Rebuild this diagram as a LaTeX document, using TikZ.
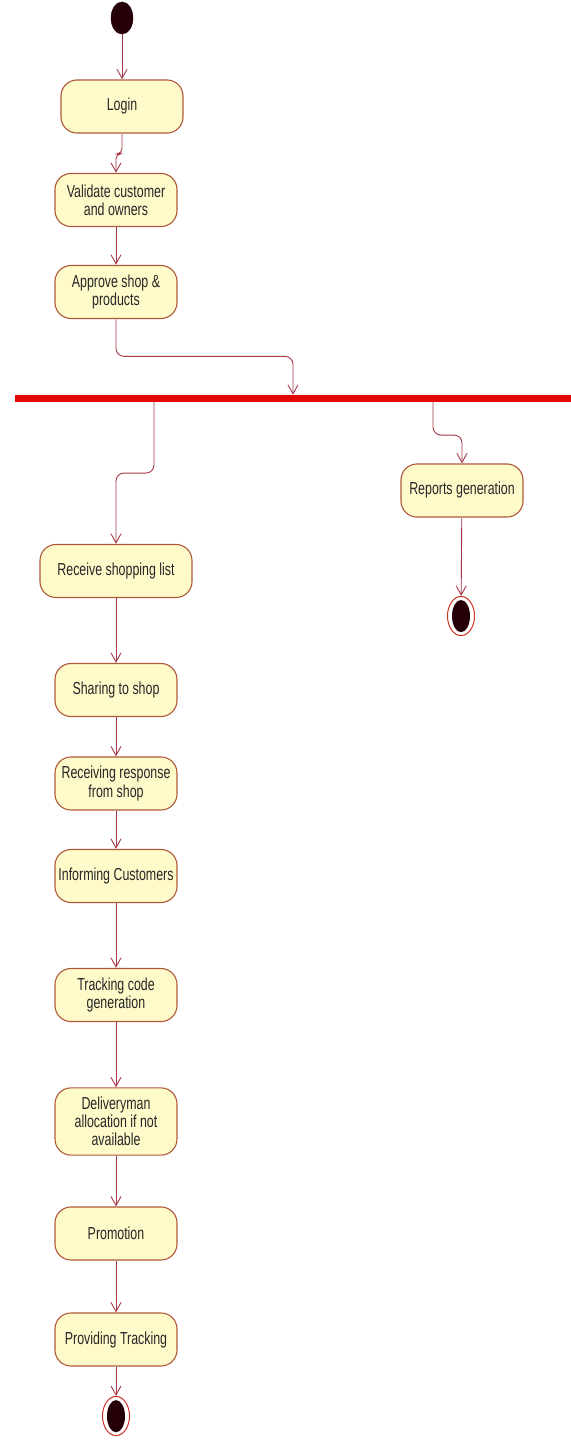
\documentclass[tikz,border=0pt]{standalone}
\usepackage{fontspec}
\setmainfont{Liberation Sans}
\usetikzlibrary{arrows.meta,shapes.geometric}
\definecolor{actfill}{RGB}{254,250,202}
\definecolor{actline}{RGB}{176,88,58}
\definecolor{flowline}{RGB}{165,55,70}
\definecolor{barred}{RGB}{226,6,6}
\definecolor{dotfill}{RGB}{38,0,8}
\begin{document}
\begin{tikzpicture}[x=1pt, y=-0.7143pt, yscale=1.4, transform shape,
	activity/.style={draw=actline, line width=1.1pt, fill=actfill, rounded corners=16pt,
		minimum width=122pt, minimum height=37.9pt, align=center, inner sep=2pt,
		font=\fontsize{12.4}{13}\selectfont, text=black!85},
	flow/.style={draw=flowline, line width=0.9pt, -{Straight Barb[length=9pt,width=10pt]}},
	startdot/.style={ellipse, fill=dotfill, draw=dotfill, minimum width=22pt, minimum height=23pt, inner sep=0pt},
	enddot/.style={ellipse, fill=white, draw=actline!60!red, line width=1pt, minimum width=27pt, minimum height=28pt, inner sep=0pt},
	endcore/.style={ellipse, fill=dotfill, minimum width=18pt, minimum height=23pt, inner sep=0pt},
	forkbar/.style={fill=barred, minimum width=556pt, minimum height=5pt, inner sep=0pt}]
	\useasboundingbox (0,0) rectangle (571,1444);
	% Draw start and fork
	\node[startdot] (start) at (122,18) {};
	\node[forkbar] (fork) at (293,398.5) {};
	\coordinate (forkL) at (154,402);
	\coordinate (forkR) at (433,402);
	% Draw activities
	\node[activity] (login) at (122,106.5) {Login};
	\node[activity] (validate) at (116,200) {Validate customer\\and owners};
	\node[activity] (approve) at (116,292) {Approve shop \&\\products};
	\node[activity] (reports) at (462,490.5) {Reports generation};
	\node[activity, minimum width=152pt] (receive) at (116,571) {Receive shopping list};
	\node[activity] (share) at (116,690) {Sharing to shop};
	\node[activity] (response) at (116,783.5) {Receiving response\\from shop};
	\node[activity] (inform) at (116,876) {Informing Customers};
	\node[activity] (code) at (116,995) {Tracking code\\generation};
	\node[activity, minimum height=48pt] (delivery) at (116,1121.5) {Deliveryman\\allocation if not\\available};
	\node[activity] (promo) at (116,1233.5) {Promotion};
	\node[activity] (tracking) at (116,1339.5) {Providing Tracking};
	% Draw end points
	\node[enddot] (end1) at (461,616) {};
	\node[endcore] (end1c) at (end1) {};
	\node[enddot] (end2) at (116,1416) {};
	\node[endcore] (end2c) at (end2) {};
	% Draw flows
	\draw[flow] (start) -- (login);
	\draw[flow, rounded corners=5pt] (login.south) -- ++(0,20) -| (validate.north);
	\draw[flow] (validate) -- (approve);
	\draw[flow, rounded corners=8pt] (approve.south) -- ++(0,37) -| (fork.north);
	\draw[flow, rounded corners=8pt] (forkL) -- ++(0,71) -| (receive.north);
	\draw[flow, rounded corners=8pt] (forkR) -- ++(0,33) -| (reports.north);
	\draw[flow] (reports) -- (end1);
	\draw[flow] (receive) -- (share);
	\draw[flow] (share) -- (response);
	\draw[flow] (response) -- (inform);
	\draw[flow] (inform) -- (code);
	\draw[flow] (code) -- (delivery);
	\draw[flow] (delivery) -- (promo);
	\draw[flow] (promo) -- (tracking);
	\draw[flow] (tracking) -- (end2);
\end{tikzpicture}
\end{document}
